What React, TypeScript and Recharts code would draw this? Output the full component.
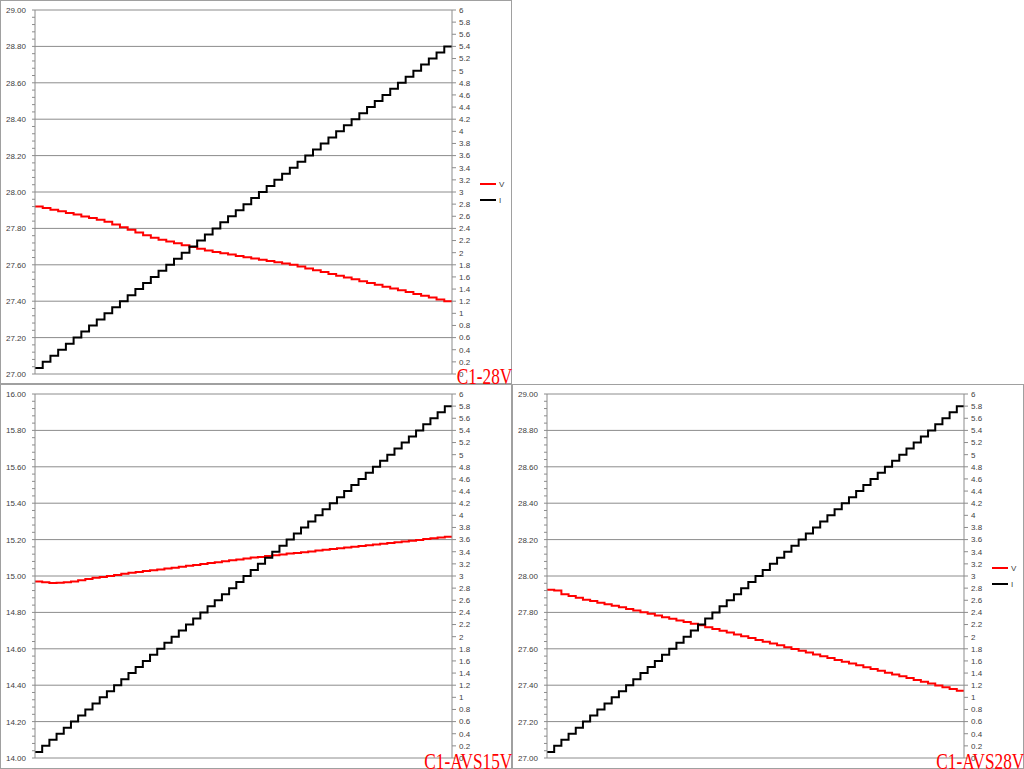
import { LineChart, Line, XAxis, YAxis, CartesianGrid, Legend } from "recharts";

// C1-28V (top left)
const currents28 = [
  0.1, 0.2, 0.3, 0.4, 0.5, 0.6, 0.7, 0.8, 0.9, 1.0, 1.1, 1.2, 1.3, 1.4, 1.5, 1.6, 1.7, 1.8,
  1.9, 2.0, 2.1, 2.2, 2.3, 2.4, 2.5, 2.6, 2.7, 2.8, 2.9, 3.0, 3.1, 3.2, 3.3, 3.4, 3.5, 3.6,
  3.7, 3.8, 3.9, 4.0, 4.1, 4.2, 4.3, 4.4, 4.5, 4.6, 4.7, 4.8, 4.9, 5.0, 5.1, 5.2, 5.3, 5.4,
];
const volts28 = [
  27.92, 27.912, 27.903, 27.894, 27.885, 27.876, 27.866, 27.857, 27.847, 27.837, 27.822,
  27.807, 27.792, 27.777, 27.762, 27.748, 27.738, 27.728, 27.718, 27.708, 27.698, 27.688,
  27.679, 27.67, 27.663, 27.656, 27.649, 27.642, 27.635, 27.628, 27.621, 27.614, 27.607,
  27.6, 27.59, 27.58, 27.57, 27.56, 27.55, 27.54, 27.53, 27.52, 27.51, 27.5, 27.49, 27.48,
  27.47, 27.46, 27.45, 27.44, 27.43, 27.42, 27.41, 27.4,
];

// C1-AVS15V (bottom left)
const currents15 = [
  0.1, 0.2, 0.3, 0.4, 0.5, 0.6, 0.7, 0.8, 0.9, 1.0, 1.1, 1.2, 1.3, 1.4, 1.5, 1.6, 1.7, 1.8,
  1.9, 2.0, 2.1, 2.2, 2.3, 2.4, 2.5, 2.6, 2.7, 2.8, 2.9, 3.0, 3.1, 3.2, 3.3, 3.4, 3.5, 3.6,
  3.7, 3.8, 3.9, 4.0, 4.1, 4.2, 4.3, 4.4, 4.5, 4.6, 4.7, 4.8, 4.9, 5.0, 5.1, 5.2, 5.3, 5.4,
  5.5, 5.6, 5.7, 5.8,
];
const volts15 = [
  14.97, 14.965, 14.962, 14.963, 14.966, 14.97, 14.977, 14.983, 14.99, 14.995, 15.0, 15.006,
  15.012, 15.018, 15.022, 15.027, 15.031, 15.036, 15.041, 15.046, 15.051, 15.056, 15.061,
  15.066, 15.071, 15.076, 15.081, 15.086, 15.091, 15.096, 15.101, 15.105, 15.11, 15.114,
  15.118, 15.123, 15.127, 15.131, 15.135, 15.14, 15.144, 15.148, 15.152, 15.156, 15.161,
  15.165, 15.169, 15.173, 15.177, 15.182, 15.186, 15.19, 15.194, 15.198, 15.203, 15.207,
  15.211, 15.215,
];

// C1-AVS28V (bottom right)
const currentsAvs28 = [
  0.1, 0.2, 0.3, 0.4, 0.5, 0.6, 0.7, 0.8, 0.9, 1.0, 1.1, 1.2, 1.3, 1.4, 1.5, 1.6, 1.7, 1.8,
  1.9, 2.0, 2.1, 2.2, 2.3, 2.4, 2.5, 2.6, 2.7, 2.8, 2.9, 3.0, 3.1, 3.2, 3.3, 3.4, 3.5, 3.6,
  3.7, 3.8, 3.9, 4.0, 4.1, 4.2, 4.3, 4.4, 4.5, 4.6, 4.7, 4.8, 4.9, 5.0, 5.1, 5.2, 5.3, 5.4,
  5.5, 5.6, 5.7, 5.8,
];
const voltsAvs28 = [
  27.925, 27.92, 27.9, 27.89, 27.88, 27.87, 27.862, 27.853, 27.845, 27.836, 27.828, 27.819,
  27.81, 27.801, 27.792, 27.783, 27.774, 27.765, 27.756, 27.747, 27.738, 27.729, 27.719,
  27.709, 27.699, 27.689, 27.679, 27.669, 27.659, 27.649, 27.639, 27.629, 27.619, 27.609,
  27.599, 27.589, 27.579, 27.569, 27.559, 27.549, 27.539, 27.529, 27.519, 27.509, 27.499,
  27.489, 27.479, 27.469, 27.459, 27.449, 27.439, 27.429, 27.419, 27.409, 27.399, 27.389,
  27.379, 27.369,
];

const voltTicks28 = [27.0, 27.2, 27.4, 27.6, 27.8, 28.0, 28.2, 28.4, 28.6, 28.8, 29.0];
const voltTicks15 = [14.0, 14.2, 14.4, 14.6, 14.8, 15.0, 15.2, 15.4, 15.6, 15.8, 16.0];
const currentTicks = [
  0, 0.2, 0.4, 0.6, 0.8, 1, 1.2, 1.4, 1.6, 1.8, 2, 2.2, 2.4, 2.6, 2.8, 3, 3.2, 3.4, 3.6,
  3.8, 4, 4.2, 4.4, 4.6, 4.8, 5, 5.2, 5.4, 5.6, 5.8, 6,
];

const seriesNames = ["V", "I"];
const seriesColors = ["#ff0000", "#000000"];

const axisFont = '"Liberation Sans", Arial, sans-serif';
const labelColor = "#404040";
const gridColor = "#8c8c8c";
const frameColor = "#a0a0a0";

function buildRows(volts: number[], currents: number[]) {
  const rows = volts.map((v, i) => ({ i, v, a: currents[i] }));
  // extra row so the last step runs to the right edge
  const last = rows[rows.length - 1];
  rows.push({ i: rows.length, v: last.v, a: last.a });
  return rows;
}

function minorTicks(majors: number[]) {
  const step = (majors[1] - majors[0]) / 5;
  const out: number[] = [];
  for (let k = 0; k <= (majors.length - 1) * 5; k++) {
    out.push(Math.round((majors[0] + k * step) * 1000) / 1000);
  }
  return out;
}

function renderVoltTick(props: any) {
  const { x, y, payload } = props;
  const v = payload.value as number;
  const major = Math.abs(v * 5 - Math.round(v * 5)) < 1e-6;
  if (!major) return <g />;
  return (
    <text x={x} y={y} dy={3} textAnchor="end" fontSize={8} fontFamily={axisFont} fill={labelColor}>
      {v.toFixed(2)}
    </text>
  );
}

function LegendBox() {
  return (
    <div style={{ fontFamily: axisFont, fontSize: 8, color: labelColor }}>
      {seriesNames.map((name, i) => (
        <div key={name} style={{ display: "flex", alignItems: "center", height: 16 }}>
          <div style={{ width: 16, height: 2, background: seriesColors[i] }} />
          <span style={{ marginLeft: 3 }}>{name}</span>
        </div>
      ))}
    </div>
  );
}

interface PanelProps {
  title: string;
  volts: number[];
  currents: number[];
  voltTicks: number[];
  left: number;
  top: number;
  height: number;
  showLegend?: boolean;
}

function Panel({ title, volts, currents, voltTicks, left, top, height, showLegend }: PanelProps) {
  const rows = buildRows(volts, currents);
  const minors = minorTicks(voltTicks);

  return (
    <div style={{ position: "absolute", left, top, width: 512, height }}>
      <div
        style={{
          position: "absolute",
          inset: 0,
          border: `1px solid ${frameColor}`,
          boxSizing: "border-box",
        }}
      />
      <div style={{ position: "absolute", left: 0, top: 0 }}>
        <LineChart width={512} height={385} data={rows} margin={{ top: 10, right: 0, bottom: 11, left: 0 }}>
          <CartesianGrid yAxisId="v" vertical={false} horizontalValues={voltTicks} stroke={gridColor} />
          <XAxis dataKey="i" type="number" domain={[0, rows.length - 1]} hide />
          <YAxis
            yAxisId="v"
            orientation="left"
            width={35}
            domain={[voltTicks[0], voltTicks[voltTicks.length - 1]]}
            ticks={minors}
            interval={0}
            tick={renderVoltTick}
            tickSize={3}
            tickMargin={6}
            axisLine={{ stroke: gridColor }}
            tickLine={{ stroke: gridColor }}
            allowDataOverflow
          />
          <YAxis
            yAxisId="a"
            orientation="right"
            width={60}
            domain={[0, 6]}
            ticks={currentTicks}
            interval={0}
            tickSize={4}
            tickMargin={3}
            tick={{ fontSize: 8, fontFamily: axisFont, fill: labelColor }}
            tickFormatter={(v: number) => String(v)}
            axisLine={{ stroke: gridColor }}
            tickLine={{ stroke: gridColor }}
          />
          <Line
            yAxisId="v"
            dataKey="v"
            name={seriesNames[0]}
            type="stepAfter"
            stroke={seriesColors[0]}
            strokeWidth={2}
            dot={false}
            isAnimationActive={false}
          />
          <Line
            yAxisId="a"
            dataKey="a"
            name={seriesNames[1]}
            type="stepAfter"
            stroke={seriesColors[1]}
            strokeWidth={2}
            dot={false}
            isAnimationActive={false}
          />
          {showLegend && (
            <Legend
              layout="vertical"
              align="center"
              verticalAlign="middle"
              content={() => <LegendBox />}
              wrapperStyle={{ left: 480, top: 176, width: 30, height: 32 }}
            />
          )}
        </LineChart>
      </div>
      <div
        style={{
          position: "absolute",
          right: 0,
          top: height - 20,
          fontFamily: '"Liberation Serif", serif',
          fontSize: 24,
          lineHeight: "24px",
          color: "#ff0000",
          whiteSpace: "nowrap",
          transform: "scaleX(0.72)",
          transformOrigin: "right top",
        }}
      >
        {title}
      </div>
    </div>
  );
}

export default function App() {
  return (
    <div style={{ position: "relative", width: 1024, height: 769, overflow: "hidden", background: "#fff" }}>
      <style>{"body{margin:0}"}</style>
      <Panel title="C1-28V" volts={volts28} currents={currents28} voltTicks={voltTicks28} left={0} top={0} height={384} showLegend />
      <Panel title="C1-AVS15V" volts={volts15} currents={currents15} voltTicks={voltTicks15} left={0} top={384} height={385} />
      <Panel title="C1-AVS28V" volts={voltsAvs28} currents={currentsAvs28} voltTicks={voltTicks28} left={512} top={384} height={385} showLegend />
    </div>
  );
}
